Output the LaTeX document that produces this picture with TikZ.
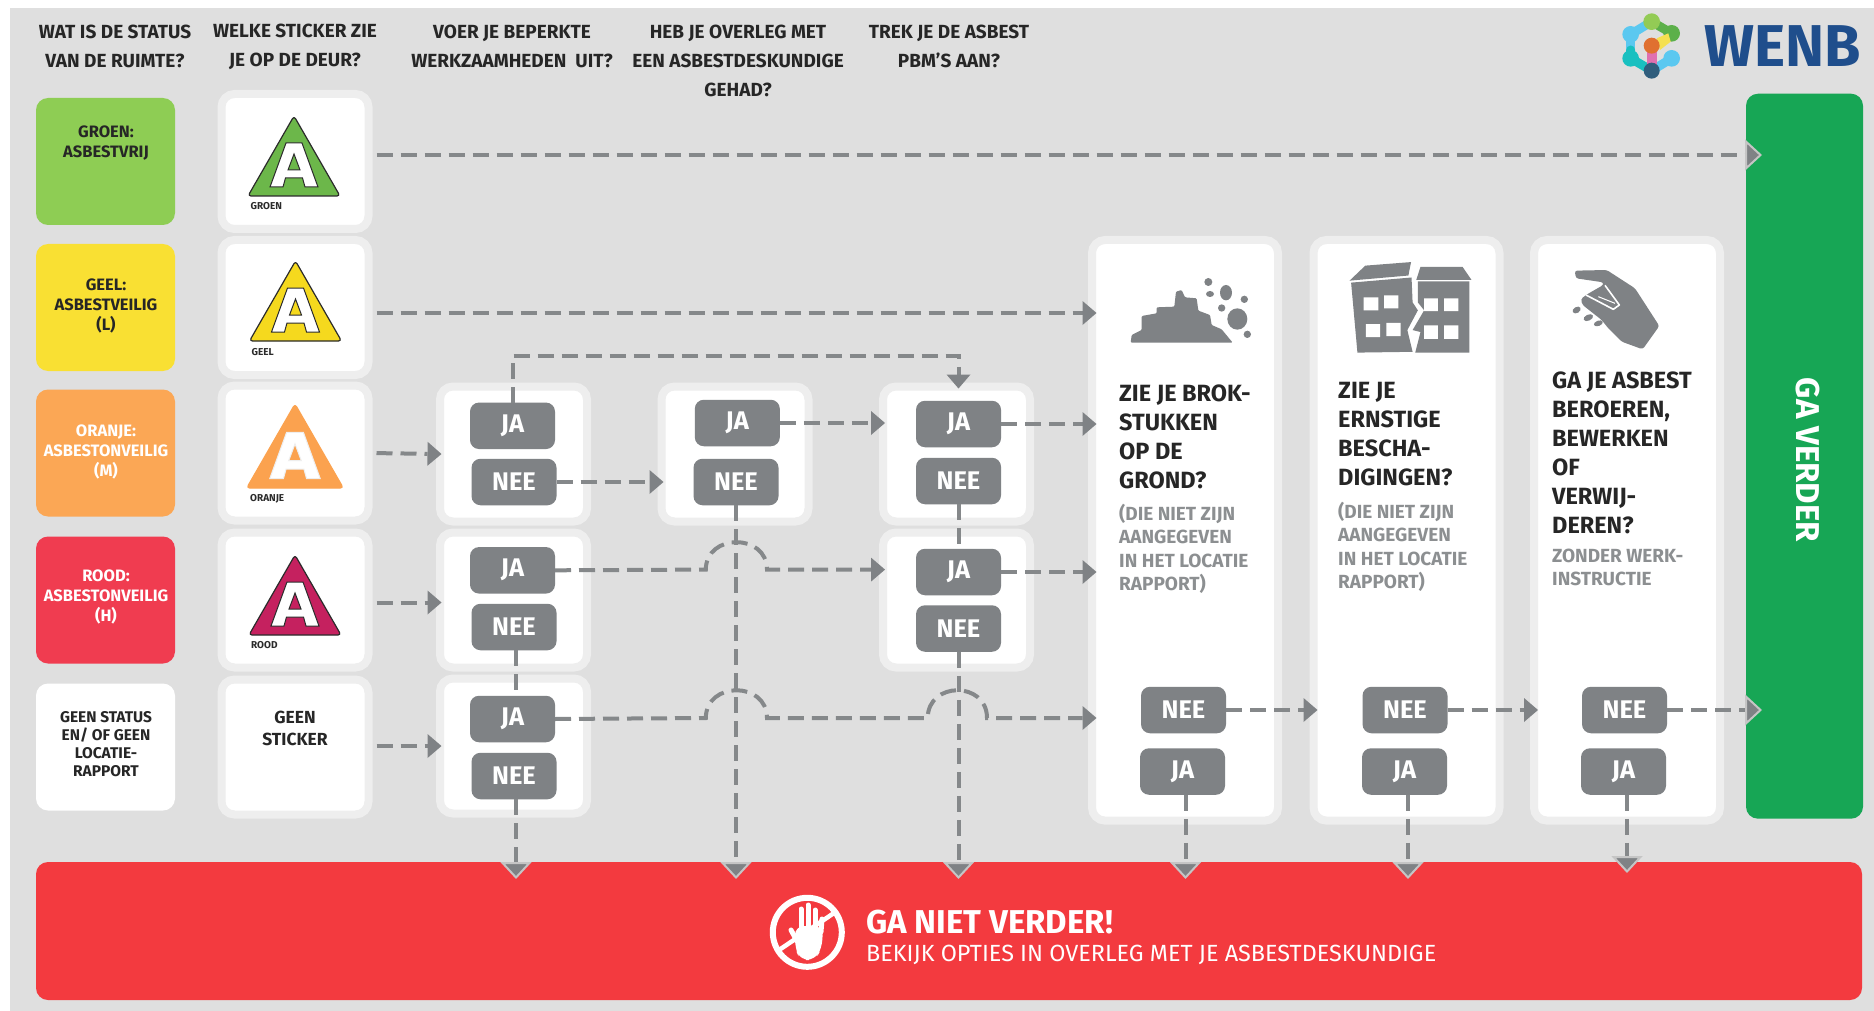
\documentclass[tikz,border=0pt]{standalone}
\usepackage{fontspec}
\setmainfont{Fira Sans}
\usetikzlibrary{arrows.meta,calc}
\definecolor{bgc}{HTML}{DFDFDF}
\definecolor{rimc}{HTML}{EEEEEE}
\definecolor{btnc}{HTML}{7F8285}
\definecolor{dashc}{HTML}{85888A}
\definecolor{subc}{HTML}{8C8F91}
\definecolor{dkc}{HTML}{2B2B2B}
\definecolor{cgreen}{HTML}{8ECD54}
\definecolor{cyellow}{HTML}{F9E033}
\definecolor{corange}{HTML}{FBA755}
\definecolor{cred}{HTML}{F03C50}
\definecolor{bigred}{HTML}{F33A3F}
\definecolor{bargreen}{HTML}{17A655}
\definecolor{wenbc}{HTML}{1F4E8C}
\definecolor{stgreen}{HTML}{6CB74A}
\definecolor{styellow}{HTML}{F5D91E}
\definecolor{storange}{HTML}{FBA24F}
\definecolor{stred}{HTML}{C5215F}
\definecolor{lsky}{HTML}{5BC8F0}
\definecolor{lgreen}{HTML}{93CB55}
\definecolor{ldgreen}{HTML}{5CB04A}
\definecolor{lteal}{HTML}{19C0C0}
\definecolor{ldark}{HTML}{2F5D7C}
\definecolor{lyellow}{HTML}{F5E050}
\definecolor{lpink}{HTML}{E070B0}
\definecolor{lorange}{HTML}{E07030}
\newcommand\drawsticker[5]{%
  \draw[fill=#3,draw=#4,line width=1.2pt,rounded corners=3pt,line join=round]
    (#1,#2) -- ({#1+46},{#2+80}) -- ({#1-46},{#2+80}) -- cycle;
  \draw[fill=white,draw=#5,line width=1pt,even odd rule]
    ({#1-8},{#2+27}) -- ({#1+8},{#2+27}) -- ({#1+24},{#2+71}) -- ({#1+11},{#2+71})
    -- ({#1+8.5},{#2+62}) -- ({#1-8.5},{#2+62}) -- ({#1-11},{#2+71}) -- ({#1-24},{#2+71}) -- cycle
    ({#1},{#2+38}) -- ({#1+6},{#2+54}) -- ({#1-6},{#2+54}) -- cycle;
}
\tikzset{
  hdr/.style={font=\bfseries\fontsize{19}{29}\selectfont,text=black!85,align=center,inner sep=0pt},
  statusbox/.style={rounded corners=12pt,minimum width=139pt,minimum height=127pt,inner sep=0pt,draw=none},
  stat/.style={font=\bfseries\fontsize{16.5}{20}\selectfont,align=center,inner sep=0pt},
  panel/.style={fill=white,draw=rimc,line width=8pt,rounded corners=13pt,inner sep=0pt,outer sep=0pt},
  stickerbox/.style={panel,minimum width=147pt,minimum height=135pt},
  choice/.style={panel,minimum width=147pt,minimum height=135pt},
  tall/.style={panel,minimum width=186pt,minimum height=580.6pt},
  btn/.style={fill=btnc,rounded corners=9pt,minimum width=85pt,minimum height=46.5pt,inner sep=0pt,outer sep=0pt,text=white,font=\bfseries\fontsize{25.5}{25.5}\selectfont},
  title/.style={anchor=north west,font=\bfseries\fontsize{23.5}{29}\selectfont,text=black!85,align=left,inner sep=0pt},
  subt/.style={anchor=north west,font=\bfseries\fontsize{19}{23.3}\selectfont,text=subc,align=left,inner sep=0pt},
  tiny/.style={anchor=west,font=\bfseries\fontsize{10}{10}\selectfont,text=dkc,inner sep=0pt},
  flow/.style={draw=dashc,line width=4pt,dash pattern=on 16pt off 8pt,-{Triangle[length=14pt,width=24pt,fill=btnc,color=btnc,line width=0pt]}},
  plain/.style={draw=dashc,line width=4pt,dash pattern=on 16pt off 8pt},
  flowrim/.style={draw=dashc,line width=4pt,dash pattern=on 16pt off 8pt,-{Triangle[length=17pt,width=31pt,fill=btnc,color=rimc!80!black!90,line width=2pt]}},
  icon/.style={fill=btnc,draw=none},
}
\begin{document}
\begin{tikzpicture}[x=1pt,y=-1pt]
\useasboundingbox (0,0) rectangle (1874,1011);
\fill[white] (0,0) rectangle (1874,1011);
\fill[bgc] (10,8) rectangle (1874,1011);

% headers
\node[hdr] (h1) at (115,46.5) {WAT IS DE STATUS\\VAN DE RUIMTE?};
\node[hdr] (h2) at (295,46.5) {WELKE STICKER ZIE\\JE OP DE DEUR?};
\node[hdr] (h3) at (512,46.5) {VOER JE BEPERKTE\\WERKZAAMHEDEN\ \ UIT?};
\node[hdr] (h4) at (738,61) {HEB JE OVERLEG MET\\EEN ASBESTDESKUNDIGE\\GEHAD?};
\node[hdr] (h5) at (949,46.5) {TREK JE DE ASBEST\\PBM'S AAN?};

% status boxes
\node[statusbox,fill=cgreen] (s1) at (105.5,161.5) {};
\node[statusbox,fill=cyellow] (s2) at (105.5,307.5) {};
\node[statusbox,fill=corange] (s3) at (105.5,453) {};
\node[statusbox,fill=cred] (s4) at (105.5,600) {};
\node[statusbox,fill=white] (s5) at (105.5,747) {};
\node[stat,text=black!85] (t1) at (106,143) {GROEN:\\ASBESTVRIJ};
\node[stat,text=black!85] (t2) at (106,305.5) {GEEL:\\ASBESTVEILIG\\(L)};
\node[stat,text=white] (t3) at (106,451.5) {ORANJE:\\ASBESTONVEILIG\\(M)};
\node[stat,text=white] (t4) at (106,596.5) {ROOD:\\ASBESTONVEILIG\\(H)};
\node[stat,text=black!85,font=\bfseries\fontsize{15.5}{18}\selectfont] (t5) at (106,744) {GEEN STATUS\\EN/ OF GEEN\\LOCATIE-\\RAPPORT};

% stickers
\node[stickerbox] (st1) at (295,161.5) {};
\node[stickerbox] (st2) at (295,307.5) {};
\node[stickerbox] (st3) at (295,453) {};
\node[stickerbox] (st4) at (295,600) {};
\node[stickerbox] (st5) at (295,747) {};
\drawsticker{294}{116}{stgreen}{dkc}{dkc}
\drawsticker{295.5}{261}{styellow}{dkc}{dkc}
\begin{scope}[shift={(295,404)},scale=1.05]
\drawsticker{0}{0}{storange}{storange}{rimc}
\end{scope}
\drawsticker{295}{555}{stred}{dkc}{dkc}
\node[tiny] (l1) at (250.5,206) {GROEN};
\node[tiny] (l2) at (251.5,352) {GEEL};
\node[tiny] (l3) at (250,499) {ORANJE};
\node[tiny] (l4) at (251,645) {ROOD};
\node[stat,text=black!85,font=\bfseries\fontsize{17.5}{22}\selectfont] (gs) at (295,728) {GEEN\\STICKER};

% choice boxes
\node[choice] (c11) at (513.5,454) {};
\node[choice] (c12) at (513.5,600) {};
\node[choice] (c13) at (513.5,746) {};
\node[choice] (c21) at (735,454) {};
\node[choice] (c31) at (956.5,454) {};
\node[choice] (c32) at (956.5,600) {};
\node[tall] (pa) at (1185,530.3) {};
\node[tall] (pb) at (1406.5,530.3) {};
\node[tall] (pc) at (1627,530.3) {};

% buttons
\node[btn] (ja11) at (512.5,425.8) {JA};
\node[btn] (ne11) at (514,482) {NEE};
\node[btn] (ja12) at (512.5,570.3) {JA};
\node[btn] (ne12) at (514,627) {NEE};
\node[btn] (ja13) at (512.5,719) {JA};
\node[btn] (ne13) at (514,776) {NEE};
\node[btn] (ja21) at (737.3,423) {JA};
\node[btn] (ne21) at (736,482) {NEE};
\node[btn] (ja31) at (958.5,424) {JA};
\node[btn] (ne31) at (958.5,481) {NEE};
\node[btn] (ja32) at (958.5,572) {JA};
\node[btn] (ne32) at (958.5,628.5) {NEE};
\node[btn] (nea) at (1183.5,710) {NEE};
\node[btn] (jaa) at (1182.5,771.5) {JA};
\node[btn] (neb) at (1405,710) {NEE};
\node[btn] (jab) at (1404.5,771.5) {JA};
\node[btn] (nec) at (1624.5,710) {NEE};
\node[btn] (jac) at (1623.5,771.5) {JA};

% bars
\node[fill=bargreen,rounded corners=12pt,minimum width=117pt,minimum height=725pt,inner sep=0pt,outer sep=0pt] (go) at (1804.5,456.2) {};
\node[fill=bigred,rounded corners=12pt,minimum width=1826pt,minimum height=138pt,inner sep=0pt,outer sep=0pt] (stop) at (949,931) {};
\node[rotate=-90,text=white,font=\bfseries\fontsize{33}{33}\selectfont,inner sep=0pt] (gv) at (1808,460) {GA VERDER};
\node[anchor=west,text=white,font=\bfseries\fontsize{33}{33}\selectfont,inner sep=0pt] (gn) at (866,922) {GA NIET VERDER!};
\node[anchor=west,text=white,font=\fontsize{23.4}{24}\selectfont,inner sep=0pt] (gb) at (866,955) {BEKIJK OPTIES IN OVERLEG MET JE ASBESTDESKUNDIGE};

% tall panel texts
\node[title] (ta) at (1119,385) {ZIE JE BROK-\\STUKKEN\\OP DE\\GROND?};
\node[subt] (sa) at (1119,504) {(DIE NIET ZIJN\\AANGEGEVEN\\IN HET LOCATIE\\RAPPORT)};
\node[title] (tb) at (1338,382) {ZIE JE\\ERNSTIGE\\BESCHA-\\DIGINGEN?};
\node[subt] (sb) at (1338,502) {(DIE NIET ZIJN\\AANGEGEVEN\\IN HET LOCATIE\\RAPPORT)};
\node[title] (tc) at (1552,372) {GA JE ASBEST\\BEROEREN,\\BEWERKEN\\OF\\VERWIJ-\\DEREN?};
\node[subt] (sc) at (1552,549) {ZONDER WERK-\\INSTRUCTIE};

% logo text
\node[anchor=west,text=wenbc,font=\bfseries\fontsize{59}{59}\selectfont,inner sep=0pt] (wenb) at (1704,46) {WENB};

% connectors
\coordinate (y1) at (0,155);
\coordinate (y2) at (0,313);
\coordinate (y12) at (0,602.5);
\coordinate (y13) at (0,746);
\coordinate (ytop) at (0,355.7);
\coordinate (xn) at (516,0);
\coordinate (xa) at (1185.5,0);
\coordinate (xb) at (1408,0);
\coordinate (xc) at (1627,0);
\coordinate (hop1a) at (705.8,569.6);
\coordinate (hop1b) at (767,569.6);
\coordinate (hop2a) at (705.8,718);
\coordinate (hop2b) at (767,718);
\coordinate (hop3a) at (927.7,718);
\coordinate (hop3b) at (987,718);
\draw[flowrim,shorten <=8pt,shorten >=-16pt] (st1.east |- y1) -- (go.west |- y1);
\draw[flow,shorten <=8pt,shorten >=-4.5pt] (st2.east |- y2) -- (pa.west |- y2);
\draw[flow,shorten <=8pt,shorten >=-1.5pt] (st3.east) -- (c11.west);
\draw[flow,shorten <=8pt,shorten >=-1.5pt] (st4.east |- y12) -- (c12.west |- y12);
\draw[flow,shorten <=8pt,shorten >=-1.5pt] (st5.east |- y13) -- (c13.west |- y13);
\draw[flow,shorten >=-2pt] (ne11.east) -- (c21.west |- ne11.east);
\draw[flow,shorten >=-2pt] (ja21.east) -- (c31.west |- ja21.east);
\draw[flow,shorten >=-4.5pt] (ja31.east) -- (pa.west |- ja31.east);
\draw[flow,shorten >=-4.5pt] (ja32.east) -- (pa.west |- ja32.east);
\draw[flow,shorten >=-2pt] (ja11.north) -- (ja11.north |- ytop) -- (ja31.north |- ytop) -- (ja31.north |- c31.north);
\draw[plain] (ne31.south) -- (ja32.north);
\draw[plain] (xn |- ne12.south) -- (xn |- ja13.north);
\draw[flowrim,shorten >=-17pt] (xn |- ne13.south) -- (xn |- stop.north);
\draw[flowrim,shorten >=-17pt] (ne21.south) -- (ne21.south |- stop.north);
\draw[flowrim,shorten >=-17pt] (ne32.south) -- (ne32.south |- stop.north);
\draw[flow,shorten >=-2pt] (ja12.east) -- (hop1a) .. controls (706,533) and (767,533) .. (hop1b) -- (c32.west |- hop1b);
\draw[flow,shorten >=-4.5pt] (ja13.east) -- (hop2a) .. controls (706,681) and (767,681) .. (hop2b) -- (hop3a) .. controls (928,681) and (987,681) .. (hop3b) -- (pa.west |- hop3b);
\draw[flow,shorten >=-4pt] (nea.east) -- (pb.west |- nea.east);
\draw[flow,shorten >=-4pt] (neb.east) -- (pc.west |- neb.east);
\draw[flowrim,shorten >=-16pt] (nec.east) -- (go.west |- nec.east);
\draw[flowrim,shorten >=-17pt] (xa |- jaa.south) -- (xa |- stop.north);
\draw[flowrim,shorten >=-17pt] (xb |- jab.south) -- (xb |- stop.north);
\draw[flowrim,shorten >=-11pt] (xc |- jac.south) -- (xc |- stop.north);

% building, drawn in the coordinates of the magnified top-right crop
\begin{scope}[shift={(1050,0)},x=0.5255pt,y=-0.3953pt]
\path[icon] (570,710)--(600,672)--(687,663)--(682,697)--cycle;
\path[icon] (705,675)--(785,675)--(802,708)--(697,708)--cycle;
\path[icon] (573,715)--(688,702)--(690,765)--(700,785)--(680,835)--(690,890)--(585,892)--cycle;
\path[icon] (700,712)--(798,712)--(798,892)--(695,892)--(705,840)--(690,835)--(712,785)--(700,765)--cycle;
\fill[white] (597,752) rectangle (625,785) (636,747) rectangle (663,780) (601,820) rectangle (628,853) (640,817) rectangle (667,850)
 (712,755) rectangle (738,787) (750,755) rectangle (777,787) (712,823) rectangle (738,857) (750,823) rectangle (777,857);
\end{scope}

% rubble
\begin{scope}[shift={(1120,270)},x=0.3333pt,y=-0.3333pt]
\path[icon,rounded corners=1pt] (32,218)--(35,195)--(65,180)--(65,138)--(110,130)--(110,112)--(163,110)--(168,65)--(185,60)--(195,82)--(230,85)--(235,122)--(270,135)--(275,165)--(305,178)--(338,218)--cycle;
\path[icon] (265,36) circle[radius=12];
\path[icon] (270,72) ellipse[x radius=12,y radius=9];
\path[icon] (318,68) ellipse[x radius=18,y radius=23];
\path[icon] (373,88) circle[radius=11];
\path[icon] (305,114) circle[radius=11];
\path[icon] (352,147) ellipse[x radius=30,y radius=32];
\path[icon] (382,193) circle[radius=11];
\end{scope}

% hand
\begin{scope}[shift={(1560,250)},x=0.3333pt,y=-0.3333pt]
\path[icon,rounded corners=2.5pt] (44,62)--(140,60)--(225,115)--(298,228)--(248,298)--(185,275)--(145,235)--(125,210)--(68,165)--(62,148)--(78,135)--(95,125)--(130,105)--(130,97)--(48,85)--cycle;
\draw[white,line width=1.6pt,line join=round] (78,135)--(160,178)--(178,165)--(135,106);
\draw[white,line width=1pt] (115,140)--(165,160);
\path[icon,rotate around={30:(50,180)}] (50,180) ellipse[x radius=13,y radius=9];
\path[icon,rotate around={25:(85,203)}] (85,203) ellipse[x radius=15,y radius=9];
\path[icon,rotate around={20:(115,220)}] (115,220) ellipse[x radius=14,y radius=8];
\end{scope}

% logo mark
\begin{scope}[shift={(1610,5)},x=0.3333pt,y=-0.3333pt]
\begin{scope}[line width=9pt,line cap=round]
\draw[lsky] (62,88)--(125,50);
\draw[ldgreen] (125,50)--(185,85);
\draw[lsky] (62,88)--(62,135);
\draw[lteal] (62,135)--(62,160)--(125,197);
\draw[lsky] (185,160)--(125,197);
\end{scope}
\path[fill=lgreen] (125,50) circle[radius=25];
\path[fill=ldgreen] (185,85) circle[radius=25];
\path[fill=lsky] (62,88) circle[radius=25];
\path[fill=lsky] (185,160) circle[radius=25];
\path[fill=lteal] (62,160) circle[radius=25];
\path[fill=lyellow] (140,100)--(175,85)--(182,110)--(150,135)--cycle;
\path[fill=lpink] (110,135) rectangle (140,180);
\path[fill=ldark] (125,197) circle[radius=24];
\path[fill=lorange] (125,122) circle[radius=24];
\end{scope}

% stop sign
\draw[white,line width=6pt] (807.3,932.3) circle[radius=34.5];
\draw[white,line width=4.5pt] (834,913) -- (779,950);
\fill[white,rounded corners=9pt] (795,926) -- (823,926) -- (822,948) -- (815,960) -- (800,960) -- (795,948) -- cycle;
\begin{scope}[white,line width=5pt,line cap=round]
\draw (801,930) -- (801,909);
\draw (808,930) -- (808,905);
\draw (815,930) -- (815,910);
\draw (821,932) -- (822,919);
\draw (797,941) -- (791,930);
\end{scope}
\end{tikzpicture}
\end{document}
